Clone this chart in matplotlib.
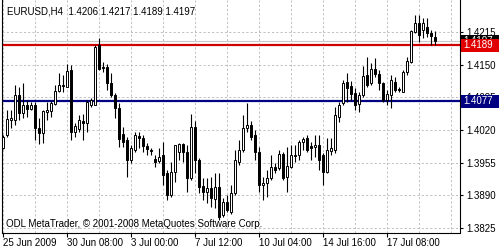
import matplotlib
matplotlib.use('Agg')
import matplotlib.pyplot as plt
from matplotlib.patches import Rectangle
from matplotlib.transforms import blended_transform_factory
import numpy as np

# EURUSD H4 bars
opens = [1.3984, 1.4010, 1.4040, 1.4040, 1.4090, 1.4054, 1.4070, 1.4062, 1.4070, 1.4024,
         1.4014, 1.4056, 1.4058, 1.4072, 1.4098, 1.4110, 1.4106, 1.4139, 1.4016, 1.4022,
         1.4038, 1.4034, 1.4070, 1.4070, 1.4189, 1.4145, 1.4145, 1.4114, 1.4090, 1.4064,
         1.4012, 1.4000, 1.3960, 1.3980, 1.4008, 1.4004, 1.3988, 1.3980, 1.3962, 1.3958,
         1.3970, 1.3934, 1.3891, 1.3936, 1.3976, 1.3992, 1.3976, 1.3924, 1.4026, 1.3960,
         1.3909, 1.3897, 1.3905, 1.3883, 1.3907, 1.3851, 1.3877, 1.3857, 1.3895, 1.3956,
         1.3980, 1.4024, 1.4030, 1.4010, 1.3976, 1.3911, 1.3915, 1.3925, 1.3946, 1.3944,
         1.3972, 1.3926, 1.3946, 1.3970, 1.3970, 1.3996, 1.4004, 1.3988, 1.3986, 1.3990,
         1.3970, 1.3936, 1.3978, 1.3980, 1.4046, 1.4074, 1.4116, 1.4108, 1.4094, 1.4072,
         1.4090, 1.4129, 1.4114, 1.4141, 1.4131, 1.4114, 1.4080, 1.4090, 1.4116, 1.4102,
         1.4096, 1.4135, 1.4155, 1.4215, 1.4233, 1.4219, 1.4225, 1.4213, 1.4206]
highs = [1.4010, 1.4060, 1.4060, 1.4110, 1.4106, 1.4114, 1.4080, 1.4076, 1.4076, 1.4044,
         1.4060, 1.4076, 1.4078, 1.4110, 1.4133, 1.4130, 1.4151, 1.4149, 1.4034, 1.4050,
         1.4052, 1.4080, 1.4084, 1.4189, 1.4203, 1.4155, 1.4151, 1.4133, 1.4094, 1.4074,
         1.4026, 1.4006, 1.3990, 1.4016, 1.4016, 1.4010, 1.3994, 1.3984, 1.3970, 1.3984,
         1.3996, 1.3940, 1.3956, 1.3990, 1.3994, 1.3994, 1.3990, 1.4052, 1.4038, 1.3964,
         1.3925, 1.3925, 1.3927, 1.3935, 1.3935, 1.3885, 1.3891, 1.3911, 1.3980, 1.4000,
         1.4050, 1.4074, 1.4038, 1.4020, 1.3986, 1.3927, 1.3940, 1.3970, 1.3954, 1.3980,
         1.3976, 1.3986, 1.3990, 1.3990, 1.4000, 1.4006, 1.4010, 1.3996, 1.4010, 1.4010,
         1.3974, 1.4004, 1.4004, 1.4066, 1.4076, 1.4120, 1.4133, 1.4118, 1.4104, 1.4096,
         1.4147, 1.4165, 1.4153, 1.4163, 1.4139, 1.4116, 1.4100, 1.4129, 1.4125, 1.4106,
         1.4139, 1.4165, 1.4219, 1.4249, 1.4249, 1.4243, 1.4243, 1.4219, 1.4217]
lows = [1.3982, 1.4006, 1.4024, 1.4030, 1.4040, 1.4044, 1.4046, 1.4060, 1.4000, 1.3992,
        1.3994, 1.4040, 1.4046, 1.4070, 1.4096, 1.4096, 1.4106, 1.4000, 1.4006, 1.4016,
        1.4000, 1.4016, 1.4066, 1.4070, 1.4139, 1.4135, 1.4100, 1.4086, 1.4044, 1.3986,
        1.3986, 1.3926, 1.3954, 1.3976, 1.3984, 1.3976, 1.3970, 1.3970, 1.3946, 1.3954,
        1.3911, 1.3881, 1.3887, 1.3917, 1.3960, 1.3956, 1.3897, 1.3920, 1.3934, 1.3895,
        1.3881, 1.3875, 1.3867, 1.3865, 1.3841, 1.3847, 1.3857, 1.3853, 1.3891, 1.3950,
        1.3976, 1.4016, 1.4000, 1.3960, 1.3897, 1.3881, 1.3887, 1.3920, 1.3934, 1.3940,
        1.3920, 1.3897, 1.3944, 1.3956, 1.3960, 1.3980, 1.3976, 1.3960, 1.3966, 1.3940,
        1.3911, 1.3934, 1.3970, 1.3974, 1.4036, 1.4070, 1.4076, 1.4080, 1.4060, 1.4056,
        1.4086, 1.4106, 1.4110, 1.4125, 1.4100, 1.4076, 1.4070, 1.4064, 1.4096, 1.4096,
        1.4096, 1.4129, 1.4153, 1.4213, 1.4195, 1.4203, 1.4205, 1.4189, 1.4189]
closes = [1.4006, 1.4042, 1.4044, 1.4090, 1.4054, 1.4070, 1.4062, 1.4070, 1.4024, 1.4014,
          1.4058, 1.4060, 1.4074, 1.4098, 1.4110, 1.4108, 1.4137, 1.4016, 1.4028, 1.4040,
          1.4034, 1.4076, 1.4080, 1.4185, 1.4141, 1.4143, 1.4114, 1.4090, 1.4064, 1.4002,
          1.3996, 1.3960, 1.3984, 1.4010, 1.4004, 1.3988, 1.3982, 1.3978, 1.3956, 1.3966,
          1.3930, 1.3891, 1.3936, 1.3990, 1.3992, 1.3976, 1.3924, 1.4026, 1.3960, 1.3907,
          1.3897, 1.3905, 1.3885, 1.3907, 1.3847, 1.3877, 1.3861, 1.3895, 1.3960, 1.3980,
          1.4024, 1.4030, 1.4006, 1.3976, 1.3911, 1.3915, 1.3925, 1.3946, 1.3940, 1.3972,
          1.3924, 1.3948, 1.3970, 1.3968, 1.3996, 1.4002, 1.3980, 1.3984, 1.3990, 1.3960,
          1.3936, 1.3980, 1.3984, 1.4050, 1.4070, 1.4114, 1.4104, 1.4092, 1.4070, 1.4090,
          1.4127, 1.4110, 1.4141, 1.4131, 1.4114, 1.4080, 1.4092, 1.4119, 1.4100, 1.4100,
          1.4135, 1.4157, 1.4217, 1.4233, 1.4209, 1.4233, 1.4213, 1.4207, 1.4197]

date_labels = ['25 Jun 2009', '30 Jun 08:00', '3 Jul 00:00', '7 Jul 12:00',
               '10 Jul 04:00', '14 Jul 16:00', '17 Jul 08:00']
label_bars = [0, 16, 32, 48, 64, 80, 96]
price_ticks = [1.3825, 1.3890, 1.3955, 1.4020, 1.4085, 1.4150, 1.4215]
red_level = 1.4189
blue_level = 1.4077
bid_level = 1.4197
title = 'EURUSD,H4  1.4206 1.4217 1.4189 1.4197'
footer = 'ODL MetaTrader, \u00a9 2001-2008 MetaQuotes Software Corp.'

plt.rcParams['font.family'] = ['Liberation Sans', 'DejaVu Sans']

fig = plt.figure(figsize=(5, 2.5), dpi=100)
ax = fig.add_axes([0.004, 0.07, 0.916, 0.93])

o = np.array(opens)
h = np.array(highs)
l = np.array(lows)
c = np.array(closes)
x = np.arange(len(o))

ax.set_xlim(-0.25, 114.25)
ax.set_ylim(1.38161, 1.42787)

# dashed grid
for gx in range(0, 115, 8):
    ax.axvline(gx, color='#c0c0c0', lw=0.7, dashes=(2.2, 2.2), zorder=0.5)
for gy in price_ticks:
    ax.axhline(gy, color='#c0c0c0', lw=0.7, dashes=(2.2, 2.2), zorder=0.5)

# level lines
ax.axhline(bid_level, color='#c8c8c8', lw=0.8, zorder=1)
ax.axhline(red_level, color='#d00000', lw=1.6, zorder=2)
ax.axhline(blue_level, color='#000080', lw=1.6, zorder=2)

# candles
ax.vlines(x, l, h, color='black', lw=0.8, zorder=3)
body_col = ['white' if cc >= oo else 'black' for oo, cc in zip(o, c)]
ax.bar(x, np.maximum(np.abs(c - o), 0.00004), bottom=np.minimum(o, c), width=0.55,
       color=body_col, edgecolor='black', linewidth=0.7, zorder=4)

# axes styling
for s in ['top']:
    ax.spines[s].set_visible(False)
for s in ['left', 'right', 'bottom']:
    ax.spines[s].set_color('black')
    ax.spines[s].set_linewidth(0.8)

ax.set_xticks(label_bars)
ax.set_xticklabels(date_labels, ha='left', fontsize=7)
ax.tick_params(axis='x', direction='out', length=3, width=0.8, pad=1)
ax.yaxis.tick_right()
ax.set_yticks(price_ticks)
ax.set_yticklabels(['%.4f' % p for p in price_ticks], fontsize=7)
ax.tick_params(axis='y', direction='out', length=2.5, width=0.8, pad=2)

# price labels on right axis
tr = blended_transform_factory(ax.transAxes, ax.transData)
box_h = 13 / 5026.0
for level, col, z in [(bid_level, 'black', 10), (red_level, '#e00000', 11), (blue_level, '#000080', 11)]:
    ax.add_patch(Rectangle((1.0022, level - box_h / 2), 0.083, box_h, transform=tr,
                           facecolor=col, edgecolor='none', clip_on=False, zorder=z))
    ax.text(1.008, level, '%.4f' % level, transform=tr, color='white', fontsize=7,
            va='center', ha='left', clip_on=False, zorder=z + 0.5)

fig.text(7 / 500, 1 - 11 / 250, title, fontsize=7, va='center', ha='left')
fig.text(6 / 500, 1 - 224 / 250, footer, fontsize=7, va='center', ha='left')

fig.savefig('out.png', dpi=100, facecolor='white')
